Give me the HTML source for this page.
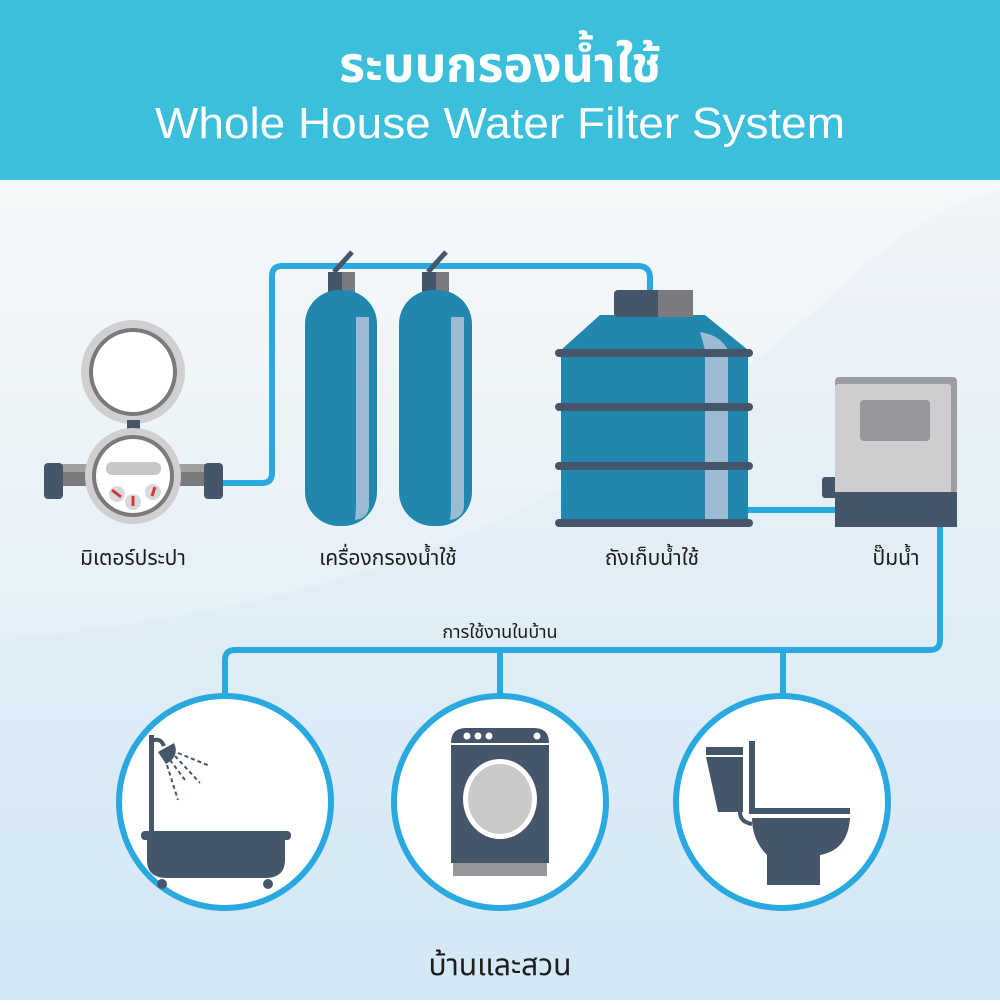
<!DOCTYPE html>
<html><head><meta charset="utf-8"><style>html,body{margin:0;padding:0;}body{width:1000px;height:1000px;overflow:hidden;}</style></head><body>
<svg width="1000" height="1000" viewBox="0 0 1000 1000" xmlns="http://www.w3.org/2000/svg" font-family="'Liberation Sans', 'Noto Sans Thai', 'Tlwg Typist', sans-serif">
<defs>
<linearGradient id="bg" x1="0" y1="0" x2="0" y2="1">
<stop offset="0" stop-color="#f6f8f9"/><stop offset="1" stop-color="#d6eaf6"/></linearGradient>
<linearGradient id="bg2" x1="0" y1="0" x2="0" y2="1">
<stop offset="0" stop-color="#eef3f7"/><stop offset="1" stop-color="#d2e7f5"/></linearGradient>
</defs>
<rect x="0" y="180" width="1000" height="820" fill="url(#bg)"/>
<path d="M1000 190 C 880 220, 850 300, 700 400 C 560 490, 420 600, 0 640 L0 1000 L1000 1000 Z" fill="url(#bg2)" opacity="0.8"/>
<rect x="0" y="0" width="1000" height="180" fill="#3bbfdb"/>
<text x="500" y="82" text-anchor="middle" font-size="50" font-weight="bold" fill="#fff">ระบบกรองน้ำใช้</text>
<text x="500" y="138" text-anchor="middle" font-size="44" fill="#fff" textLength="690" lengthAdjust="spacingAndGlyphs">Whole House Water Filter System</text>

<!-- pipes -->
<g fill="none" stroke="#29a9e0" stroke-width="6" stroke-linejoin="round">
<path d="M220 483 H262 Q272 483 272 473 V276 Q272 266 282 266 H638 Q650 266 650 278 V292"/>
<path d="M745 510 H836"/>
<path d="M940 525 V640 Q940 650 930 650 H235 Q225 650 225 660 V700"/>
<path d="M500 650 V700"/>
<path d="M783 650 V700"/>
</g>

<!-- meter -->
<g>
<circle cx="133" cy="372" r="52" fill="#d0cfd1"/>
<circle cx="133" cy="372" r="44" fill="#7a7a7d"/>
<circle cx="133" cy="372" r="40" fill="#fff"/>
<rect x="127" y="420" width="13" height="10" fill="#46566a"/>
<rect x="60" y="464" width="150" height="22" fill="#7a7a7d"/>
<rect x="60" y="464" width="150" height="8" fill="#a0a0a3"/>
<rect x="44" y="463" width="19" height="36" rx="4" fill="#46566a"/>
<rect x="204" y="463" width="19" height="36" rx="4" fill="#46566a"/>
<circle cx="133" cy="476" r="48" fill="#d0cfd1"/>
<circle cx="133" cy="476" r="41" fill="#7a7a7d"/>
<circle cx="133" cy="476" r="37" fill="#fff"/>
<rect x="106" y="462" width="55" height="13" rx="6" fill="#c7c7c9"/>
<circle cx="117" cy="494" r="8" fill="#d9d9db"/><path d="M112 490 L121 497" stroke="#d13a3a" stroke-width="3"/>
<circle cx="133" cy="502" r="8" fill="#d9d9db"/><path d="M133 496 L133 506" stroke="#d13a3a" stroke-width="3"/>
<circle cx="153" cy="492" r="8" fill="#d9d9db"/><path d="M155 487 L152 496" stroke="#d13a3a" stroke-width="3"/>
</g>

<!-- filters -->
<g>
<path d="M334 272 L352 252" stroke="#46566a" stroke-width="5"/>
<path d="M428 272 L446 252" stroke="#46566a" stroke-width="5"/>
<rect x="328" y="272" width="27" height="24" fill="#46566a"/><rect x="342" y="272" width="13" height="24" fill="#7a7a80"/>
<rect x="422" y="272" width="27" height="24" fill="#46566a"/><rect x="436" y="272" width="13" height="24" fill="#7a7a80"/>
<rect x="305" y="290" width="72" height="236" rx="34" fill="#2187ae"/>
<rect x="399" y="290" width="73" height="236" rx="34" fill="#2187ae"/>
<path d="M356 317 H369 V505 Q369 518 355 520 Q356 512 356 505 Z" fill="#9bbbd3"/>
<path d="M451 317 H464 V505 Q464 518 450 520 Q451 512 451 505 Z" fill="#9bbbd3"/>
</g>

<!-- tank -->
<g>
<path d="M600 315 H705 L748 350 V523 H561 V350 Z" fill="#2187ae"/>
<path d="M700 332 Q720 335 728 350 V523 H705 V350 Z" fill="#9bbbd3"/>
<rect x="614" y="290" width="79" height="27" rx="4" fill="#46566a"/>
<rect x="658" y="290" width="35" height="27" fill="#7a7a80"/>
<g stroke="#46566a" stroke-width="8" stroke-linecap="round">
<path d="M559 353 H749"/><path d="M559 407 H749"/><path d="M559 466 H749"/><path d="M559 523 H749"/>
</g>
</g>

<!-- pump -->
<g>
<rect x="822" y="477" width="16" height="21" rx="3" fill="#46566a"/>
<rect x="835" y="377" width="122" height="116" rx="4" fill="#9d9ea2"/>
<rect x="835" y="384" width="116" height="110" rx="3" fill="#cfcdcf"/>
<rect x="860" y="400" width="70" height="41" rx="4" fill="#96979b"/>
<rect x="835" y="492" width="122" height="35" fill="#46566a"/>
</g>

<!-- labels -->
<g fill="#1e1e1e" font-size="21" text-anchor="middle">
<text x="133" y="565">มิเตอร์ประปา</text>
<text x="388" y="565">เครื่องกรองน้ำใช้</text>
<text x="652" y="565">ถังเก็บน้ำใช้</text>
<text x="896" y="565">ปั๊มน้ำ</text>
<text x="500" y="638" font-size="18">การใช้งานในบ้าน</text>
<text x="500" y="975" font-size="30">บ้านและสวน</text>
</g>

<!-- circles -->
<g fill="#fff" stroke="#29a9e0" stroke-width="6">
<circle cx="225" cy="802" r="106"/>
<circle cx="500" cy="802" r="106"/>
<circle cx="782" cy="802" r="106"/>
</g>

<!-- bath -->
<g fill="#46566a">
<rect x="149" y="735" width="5" height="100"/>
<path d="M150 742 Q160 736 164 746" stroke="#46566a" stroke-width="4" fill="none"/>
<path d="M158 752 L174 743 Q180 756 166 764 Z"/>
<g stroke="#46566a" stroke-width="2" stroke-dasharray="4 3" fill="none">
<path d="M170 760 L185 780"/><path d="M175 756 L200 783"/><path d="M178 753 L210 766"/><path d="M167 765 L178 800"/>
</g>
<rect x="141" y="831" width="150" height="9" rx="4"/>
<path d="M147 836 H285 V860 Q285 878 265 878 H167 Q147 878 147 860 Z"/>
<circle cx="162" cy="884" r="5"/><circle cx="268" cy="884" r="5"/>
</g>

<!-- washer -->
<g>
<path d="M451 743 Q451 728 466 728 H534 Q549 728 549 743 V863 H451 Z" fill="#46566a"/>
<rect x="450" y="743" width="100" height="2" fill="#fff"/>
<circle cx="467" cy="736" r="3.5" fill="#fff"/><circle cx="478" cy="736" r="3.5" fill="#fff"/><circle cx="489" cy="736" r="3.5" fill="#fff"/><circle cx="537" cy="736" r="3.5" fill="#fff"/>
<ellipse cx="500" cy="799" rx="37" ry="40" fill="#fff"/>
<ellipse cx="500" cy="799" rx="32" ry="35" fill="#cacacc"/>
<rect x="453" y="863" width="94" height="13" fill="#96979b"/>
</g>

<!-- toilet -->
<g fill="#46566a">
<rect x="706" y="747" width="37" height="8"/>
<path d="M706 757 H743 V812 H718 Z"/>
<rect x="749" y="741" width="6" height="73"/>
<rect x="749" y="808" width="101" height="6"/>
<path d="M740 812 Q740 822 752 824" stroke="#46566a" stroke-width="4" fill="none"/>
<path d="M752 818 H850 Q848 850 820 855 V885 H767 V855 Q752 840 752 818 Z"/>
</g>
</svg>
</body></html>
